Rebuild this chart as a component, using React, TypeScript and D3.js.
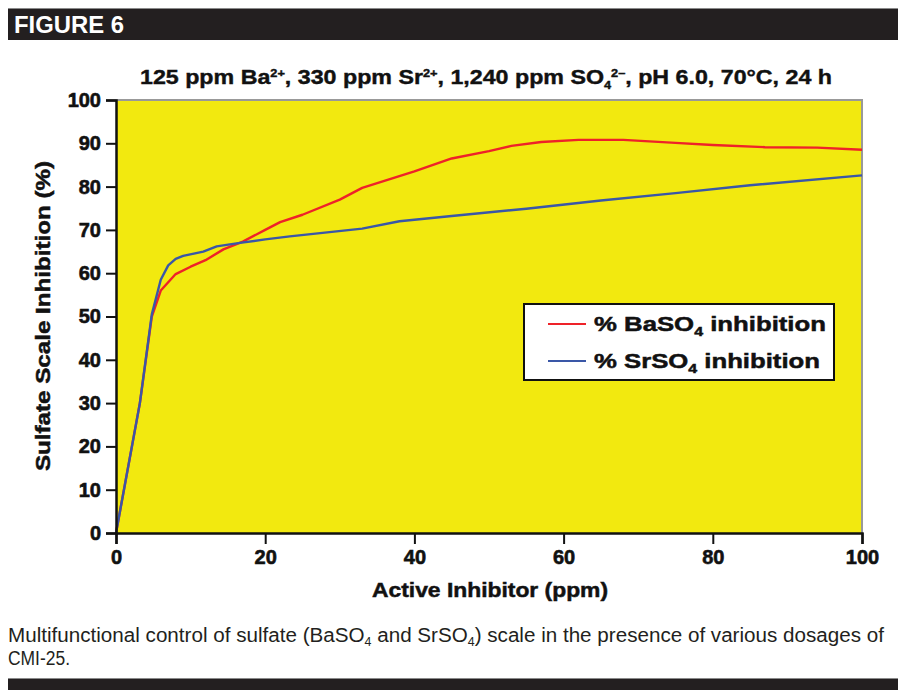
import React, { useEffect, useRef } from 'react';
import * as d3 from 'd3';

// Active inhibitor dose (ppm) vs. % inhibition
const baDose = [0, 3.2, 4.8, 6, 8, 10, 12, 14.4, 17, 20, 22, 25, 30, 33, 40, 45, 50, 53, 57, 62, 68, 75, 80, 87, 94, 100];
const baInhib = [0, 30, 50, 56, 59.8, 61.5, 63, 65.5, 67.3, 70, 71.8, 73.5, 77, 79.7, 83.5, 86.5, 88.2, 89.4, 90.3, 90.8, 90.8, 90.1, 89.6, 89.1, 89, 88.5];
const srDose = [0, 3.2, 4.8, 6, 7, 8, 9, 11.7, 13.5, 16.6, 20, 23.3, 33, 38, 45, 55, 65, 75, 85, 100];
const srInhib = [0, 30, 50.5, 58.5, 61.8, 63.3, 64, 65, 66.2, 67, 67.8, 68.5, 70.3, 72, 73.2, 74.9, 76.8, 78.5, 80.3, 82.6];
const xTicks = [0, 20, 40, 60, 80, 100];
const yTicks = [0, 10, 20, 30, 40, 50, 60, 70, 80, 90, 100];

const W = 898;
const H = 690;
const heavy = "'Liberation Sans', Arial, sans-serif";
const ink = '#111';

const App = () => {
    const svgRef = useRef<SVGSVGElement | null>(null);

    useEffect(() => {
        if (!svgRef.current) return;
        const svg = d3.select(svgRef.current);
        svg.selectAll('*').remove();

        const plot = { left: 116, right: 862, top: 100, bottom: 533 };
        const x = d3.scaleLinear().domain([0, 100]).range([plot.left, plot.right]);
        const y = d3.scaleLinear().domain([0, 100]).range([plot.bottom, plot.top]);

        // makes bold text look like the heavier face in the figure
        const beef = (sel: any, w = 0.5) => sel.attr('stroke', ink).attr('stroke-width', w).attr('paint-order', 'stroke');

        // header bar
        svg.append('rect').attr('x', 8).attr('y', 8).attr('width', W - 8).attr('height', 32).attr('fill', '#231f20');
        svg.append('line').attr('x1', 8).attr('x2', W).attr('y1', 8.5).attr('y2', 8.5).attr('stroke', '#8a8a8a').attr('stroke-width', 1);
        svg.append('text').attr('x', 14).attr('y', 33)
            .attr('font-family', heavy).attr('font-weight', 700).attr('font-size', 24)
            .attr('fill', '#fff').attr('textLength', 110).attr('lengthAdjust', 'spacingAndGlyphs')
            .text('FIGURE 6');

        // footer bar
        svg.append('rect').attr('x', 8).attr('y', 678).attr('width', W - 8).attr('height', 12).attr('fill', '#231f20');
        svg.append('line').attr('x1', 8).attr('x2', W).attr('y1', 678.5).attr('y2', 678.5).attr('stroke', '#8a8a8a').attr('stroke-width', 1);

        // plot background
        svg.append('rect').attr('x', plot.left).attr('y', plot.top)
            .attr('width', plot.right - plot.left).attr('height', plot.bottom - plot.top)
            .attr('fill', '#f2e90f');
        svg.append('path')
            .attr('d', `M${plot.left},${plot.top}H${plot.right}V${plot.bottom}`)
            .attr('fill', 'none').attr('stroke', '#999').attr('stroke-width', 2);

        // chart title
        const title = svg.append('text').attr('x', 140).attr('y', 84)
            .attr('font-family', heavy).attr('font-weight', 700).attr('font-size', 20)
            .attr('fill', ink).attr('textLength', 692).attr('lengthAdjust', 'spacingAndGlyphs');
        beef(title, 0.4);
        title.append('tspan').text('125 ppm Ba');
        title.append('tspan').attr('dy', -7).attr('font-size', 11).text('2+');
        title.append('tspan').attr('dy', 7).text(', 330 ppm Sr');
        title.append('tspan').attr('dy', -7).attr('font-size', 11).text('2+');
        title.append('tspan').attr('dy', 7).text(', 1,240 ppm SO');
        title.append('tspan').attr('dy', 5).attr('font-size', 11).text('4');
        title.append('tspan').attr('dy', -12).attr('font-size', 11).text('2–');
        title.append('tspan').attr('dy', 7).text(', pH 6.0, 70°C, 24 h');

        // lines
        const line = d3.line<[number, number]>().x(d => x(d[0])).y(d => y(d[1]));
        const baPts = baDose.map((d, i) => [d, baInhib[i]] as [number, number]);
        const srPts = srDose.map((d, i) => [d, srInhib[i]] as [number, number]);
        svg.append('path').attr('d', line(baPts)).attr('fill', 'none')
            .attr('stroke', '#ee2229').attr('stroke-width', 2.4).attr('stroke-linejoin', 'round');
        svg.append('path').attr('d', line(srPts)).attr('fill', 'none')
            .attr('stroke', '#3a57a7').attr('stroke-width', 2.4).attr('stroke-linejoin', 'round');

        // axes
        const yAxis = svg.append('g').attr('transform', `translate(${plot.left},0)`)
            .call(d3.axisLeft(y).tickValues(yTicks).tickSize(10).tickPadding(5).tickFormat(d3.format('d')));
        const xAxis = svg.append('g').attr('transform', `translate(0,${plot.bottom})`)
            .call(d3.axisBottom(x).tickValues(xTicks).tickSize(11).tickPadding(6).tickFormat(d3.format('d')));
        [yAxis, xAxis].forEach(ax => {
            ax.select('.domain').attr('stroke', ink).attr('stroke-width', 2.5);
            ax.selectAll('.tick line').attr('stroke', ink).attr('stroke-width', 2);
            beef(ax.selectAll('.tick text').attr('fill', ink)
                .attr('font-family', heavy).attr('font-weight', 700).attr('font-size', 20), 0.6);
        });

        // axis titles
        beef(svg.append('text').attr('x', 490).attr('y', 597).attr('text-anchor', 'middle')
            .attr('font-family', heavy).attr('font-weight', 700).attr('font-size', 21)
            .attr('fill', ink).attr('textLength', 236).attr('lengthAdjust', 'spacingAndGlyphs')
            .text('Active Inhibitor (ppm)'), 0.5);
        beef(svg.append('text').attr('transform', 'translate(50,316) rotate(-90)').attr('text-anchor', 'middle')
            .attr('font-family', heavy).attr('font-weight', 700).attr('font-size', 20)
            .attr('fill', ink).attr('textLength', 310).attr('lengthAdjust', 'spacingAndGlyphs')
            .text('Sulfate Scale Inhibition (%)'), 0.5);

        // legend
        const lg = svg.append('g');
        lg.append('rect').attr('x', 524).attr('y', 304).attr('width', 310).attr('height', 76)
            .attr('fill', '#fff').attr('stroke', ink).attr('stroke-width', 2);
        const items = [
            { name: 'Ba', color: '#ee2229', yy: 324, len: 232 },
            { name: 'Sr', color: '#3a57a7', yy: 361, len: 226 },
        ];
        items.forEach(it => {
            lg.append('line').attr('x1', 548).attr('x2', 586).attr('y1', it.yy).attr('y2', it.yy)
                .attr('stroke', it.color).attr('stroke-width', 2);
            const t = lg.append('text').attr('x', 594).attr('y', it.yy + 7)
                .attr('font-family', heavy).attr('font-weight', 700).attr('font-size', 21).attr('fill', ink)
                .attr('textLength', it.len).attr('lengthAdjust', 'spacingAndGlyphs');
            beef(t, 0.5);
            t.append('tspan').text(`% ${it.name}SO`);
            t.append('tspan').attr('dy', 5).attr('font-size', 13).text('4');
            t.append('tspan').attr('dy', -5).text(' inhibition');
        });

        // caption
        const cap1 = svg.append('text').attr('x', 8).attr('y', 642)
            .attr('font-family', heavy).attr('font-size', 20).attr('fill', '#231f20')
            .attr('textLength', 876).attr('lengthAdjust', 'spacingAndGlyphs');
        cap1.append('tspan').text('Multifunctional control of sulfate (BaSO');
        cap1.append('tspan').attr('dy', 4).attr('font-size', 12).text('4');
        cap1.append('tspan').attr('dy', -4).text(' and SrSO');
        cap1.append('tspan').attr('dy', 4).attr('font-size', 12).text('4');
        cap1.append('tspan').attr('dy', -4).text(') scale in the presence of various dosages of');
        svg.append('text').attr('x', 8).attr('y', 665)
            .attr('font-family', heavy).attr('font-size', 20).attr('fill', '#231f20')
            .attr('textLength', 62).attr('lengthAdjust', 'spacingAndGlyphs')
            .text('CMI-25.');
    }, []);

    return (
        <svg ref={svgRef} width={W} height={H} style={{ display: 'block', position: 'absolute', left: 0, top: 0 }} />
    );
};

export default App;
